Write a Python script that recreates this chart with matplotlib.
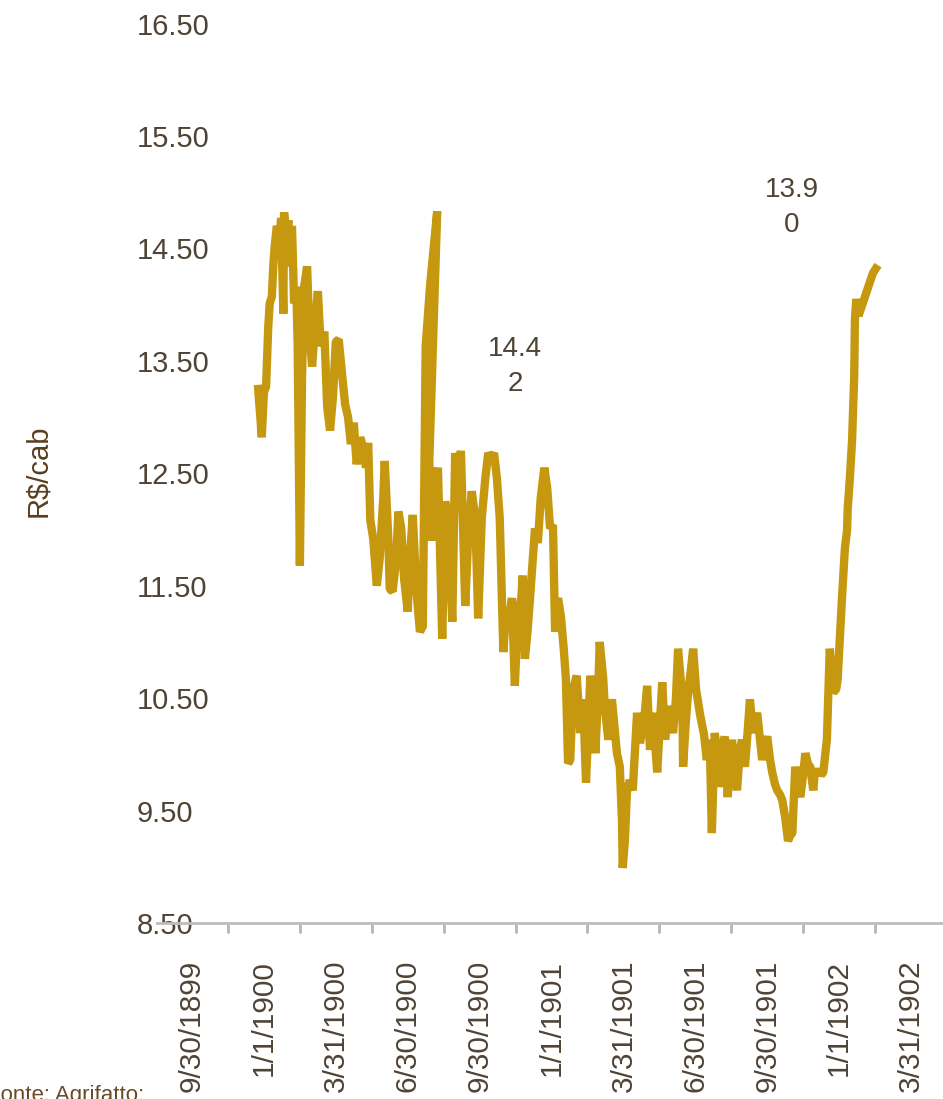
import matplotlib.pyplot as plt
import numpy as np

dates = ['9/30/1899', '1/1/1900', '3/31/1900', '6/30/1900', '9/30/1900', '1/1/1901',
         '3/31/1901', '6/30/1901', '9/30/1901', '1/1/1902', '3/31/1902']

# position along the axis, in quarters from the first label
period = [0.92, 0.95, 0.97, 1.00, 1.03, 1.06, 1.08, 1.11, 1.13, 1.15, 1.18, 1.21, 1.24, 1.27, 1.28,
          1.31, 1.34, 1.36, 1.39, 1.42, 1.45, 1.47, 1.50, 1.53, 1.56, 1.60, 1.63, 1.67, 1.71, 1.75,
          1.79, 1.84, 1.88, 1.92, 1.96, 2.00, 2.04, 2.09, 2.13, 2.17, 2.21, 2.25, 2.29, 2.34, 2.38,
          2.42, 2.45, 2.48, 2.52, 2.57, 2.61, 2.66, 2.68, 2.73, 2.75, 2.79, 2.84, 2.87, 2.91, 2.95,
          3.00, 3.03, 3.07, 3.12, 3.17, 3.21, 3.25, 3.31, 3.41, 3.30, 3.34, 3.38, 3.42, 3.48, 3.52,
          3.56, 3.62, 3.66, 3.70, 3.74, 3.80, 3.84, 3.89, 3.94, 3.98, 4.03, 4.08, 4.12, 4.16, 4.20,
          4.24, 4.28, 4.33, 4.37, 4.41, 4.45, 4.49, 4.53, 4.58, 4.60, 4.63, 4.67, 4.71, 4.77, 4.81,
          4.85, 4.90, 4.94, 4.98, 5.02, 5.05, 5.09, 5.13, 5.17, 5.20, 5.23, 5.26, 5.30, 5.35, 5.40,
          5.44, 5.48, 5.54, 5.58, 5.61, 5.65, 5.67, 5.72, 5.74, 5.79, 5.84, 5.88, 5.91, 5.95, 5.98,
          5.99, 6.02, 6.05, 6.09, 6.13, 6.19, 6.23, 6.29, 6.33, 6.37, 6.41, 6.47, 6.51, 6.54, 6.58,
          6.62, 6.69, 6.73, 6.76, 6.82, 6.83, 6.87, 6.90, 6.94, 6.97, 7.01, 7.07, 7.12, 7.16, 7.20,
          7.23, 7.27, 7.32, 7.34, 7.39, 7.41, 7.45, 7.51, 7.55, 7.58, 7.62, 7.65, 7.69, 7.73, 7.76,
          7.80, 7.86, 7.90, 7.93, 7.97, 8.00, 8.04, 8.07, 8.11, 8.14, 8.18, 8.21, 8.25, 8.29, 8.32,
          8.35, 8.39, 8.42, 8.46, 8.50, 8.53, 8.57, 8.60, 8.64, 8.66, 8.71, 8.75, 8.78, 8.83, 8.87,
          8.92, 8.96, 8.98, 9.04, 9.08, 9.11, 9.12, 9.15, 9.18, 9.21, 9.22, 9.24, 9.27, 9.47, 9.51]

price = [13.25, 13.00, 12.82, 13.22, 13.27, 13.80, 14.01, 14.07, 14.34, 14.52, 14.70, 14.57, 14.77, 13.92, 14.82,
         14.61, 14.75, 14.34, 14.70, 14.01, 14.16, 13.63, 11.68, 13.36, 14.16, 14.34, 13.80, 13.45, 13.80, 14.12,
         13.63, 13.76, 13.09, 12.88, 13.18, 13.67, 13.69, 13.36, 13.11, 13.00, 12.76, 12.95, 12.58, 12.82, 12.73,
         12.55, 12.77, 12.08, 11.92, 11.50, 11.74, 12.28, 12.61, 11.92, 11.47, 11.45, 11.74, 12.16, 12.01, 11.56,
         11.27, 11.74, 12.13, 11.47, 11.09, 11.14, 13.63, 14.16, 14.83, 12.61, 11.90, 12.34, 12.55, 11.03, 12.25,
         12.10, 11.18, 12.68, 12.46, 12.70, 11.32, 11.92, 12.34, 12.10, 11.21, 12.10, 12.46, 12.68, 12.64, 12.68,
         12.46, 12.10, 10.91, 11.30, 11.21, 11.39, 10.61, 11.21, 11.39, 11.59, 10.85, 11.12, 11.47, 12.01, 11.88,
         12.28, 12.55, 12.37, 12.01, 12.04, 11.09, 11.39, 11.23, 10.94, 10.67, 9.92, 9.95, 10.58, 10.70, 10.19,
         10.49, 9.75, 10.70, 10.31, 10.01, 10.58, 11.00, 10.67, 10.43, 10.13, 10.49, 10.22, 10.01, 9.89, 9.41,
         8.99, 9.23, 9.68, 9.77, 9.68, 10.37, 10.10, 10.31, 10.61, 10.04, 10.37, 9.84, 10.31, 10.64, 10.13,
         10.43, 10.19, 10.49, 10.94, 10.49, 9.89, 10.31, 10.55, 10.76, 10.94, 10.58, 10.34, 10.18, 9.95, 10.13,
         9.30, 10.19, 9.95, 9.71, 10.09, 10.16, 9.62, 10.13, 9.86, 9.68, 10.04, 10.13, 9.89, 10.22, 10.49,
         10.19, 10.37, 10.13, 9.95, 10.09, 10.16, 9.95, 9.84, 9.73, 9.68, 9.64, 9.59, 9.44, 9.23, 9.28,
         9.30, 9.89, 9.77, 9.62, 9.82, 10.01, 9.91, 9.89, 9.68, 9.82, 9.86, 9.82, 9.84, 10.13, 10.94,
         10.55, 10.58, 10.67, 11.39, 11.83, 11.99, 12.19, 12.46, 12.79, 13.36, 13.87, 14.05, 13.90, 14.28, 14.32]

yticks = [8.5, 9.5, 10.5, 11.5, 12.5, 13.5, 14.5, 15.5, 16.5]

labels_txt = ['14.4\n2', '13.9\n0']
labels_x = [4.49, 8.34]
labels_y = [13.45, 14.86]

fam = ['Liberation Sans', 'DejaVu Sans']
txt_color = '#4f4336'

fig = plt.figure(figsize=(9.43, 10.99), dpi=100)
ax = fig.add_axes([0.1665, 0.1601, 0.8335, 0.8185])

ax.plot(period, price, color='#C6980F', lw=6, solid_joinstyle='bevel', zorder=3)

ax.set_xlim(-0.487, 10.445)
ax.set_ylim(8.5, 16.5)

for s in ['top', 'right', 'left']:
    ax.spines[s].set_visible(False)
ax.spines['bottom'].set_color('#bdbdbd')
ax.spines['bottom'].set_linewidth(2)

ax.set_yticks(yticks)
ax.set_yticklabels(['%.2f' % v for v in yticks], family=fam, fontsize=21, color=txt_color)
ax.tick_params(axis='y', length=0, pad=14.4)
for lbl in ax.get_yticklabels():
    lbl.set_horizontalalignment('left')

ax.set_xticks(np.arange(len(dates)))
ax.set_xticklabels(dates, rotation=90, family=fam, fontsize=21.5, color=txt_color)
ax.set_xticks(np.arange(len(dates) - 1) + 0.5, minor=True)
ax.tick_params(axis='x', which='major', length=0, pad=26.5)
ax.tick_params(axis='x', which='minor', length=7, width=2, color='#b5b5b5')

for t, x, y in zip(labels_txt, labels_x, labels_y):
    ax.text(x, y, t, ha='center', va='center', family=fam, fontsize=20,
            color=txt_color, linespacing=1.45)

fig.text(0.0403, 0.572, 'R$/cab', rotation=90, ha='center', va='center',
         family=fam, fontsize=21, color='#5a3d1e')
fig.text(-0.014, -0.002, 'Fonte: Agrifatto;', ha='left', va='baseline',
         family=fam, fontsize=16, color='#6b4a26')

fig.savefig('out.png', dpi=100)
